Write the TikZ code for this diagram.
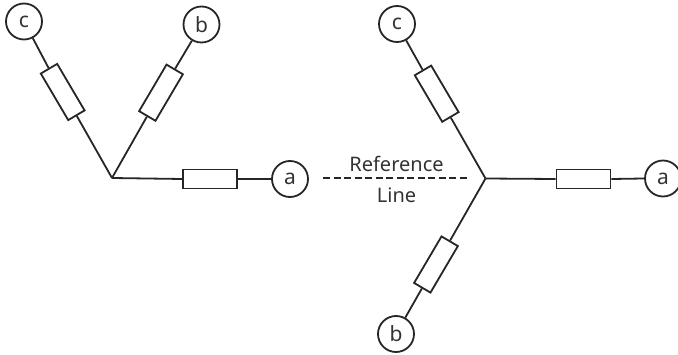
\documentclass[tikz,border=0pt]{standalone}
\usepackage{fontspec}
\setmainfont{Noto Sans}
\tikzset{
  wire/.style={line width=1.8pt,black!85},
  term/.style={circle,draw=black!85,line width=1.8pt,minimum size=36pt,inner sep=0pt,font=\fontsize{21}{21}\selectfont,text=black!80,fill=white},
  res/.style={rectangle,draw=black!85,line width=1.8pt,minimum width=54pt,minimum height=19pt,inner sep=0pt,fill=white},
  lab/.style={font=\fontsize{20}{20}\selectfont,text=black!80,inner sep=0pt}
}
\begin{document}
\begin{tikzpicture}[x=1pt,y=-1pt]
\useasboundingbox (0,0) rectangle (678,355);
% left star
\coordinate (hubL) at (112,178);
\node[term] (aL) at (290,179) {a};
\node[term] (bL) at (201.5,24.5) {b};
\node[term] (cL) at (24,21.5) {c};
\node[res] (raL) at (210,179) {};
\node[res,rotate=59.5] (rbL) at (161,92.7) {};
\node[res,rotate=-59.5] (rcL) at (62.7,92) {};
\draw[wire] (hubL) -- (raL.west);
\draw[wire] (raL.east) -- (aL.west);
\draw[wire] (hubL) -- (rbL.west);
\draw[wire] (rbL.east) -- (bL);
\draw[wire] (hubL) -- (rcL.east);
\draw[wire] (rcL.west) -- (cL);
% right star
\coordinate (hubR) at (485.5,178.5);
\node[term] (aR) at (663,178.5) {a};
\node[term] (bR) at (396,334) {b};
\node[term] (cR) at (397,24) {c};
\node[res] (raR) at (583.5,179) {};
\node[res,rotate=59.5] (rbR) at (436,264.5) {};
\node[res,rotate=-59.5] (rcR) at (436.7,93.7) {};
\draw[wire] (hubR) -- (raR.west);
\draw[wire] (raR.east) -- (aR.west);
\draw[wire] (hubR) -- (rbR.east);
\draw[wire] (rbR.west) -- (bR);
\draw[wire] (hubR) -- (rcR.east);
\draw[wire] (rcR.west) -- (cR);
% reference line
\coordinate (refA) at (323,178);
\coordinate (refB) at (469,178);
\draw[wire,line width=1.6pt,dash pattern=on 7pt off 3.5pt] (refA) -- (refB);
\node[lab] (reftop) at (396.5,164) {Reference};
\node[lab] (refbot) at (396.5,195) {Line};
\end{tikzpicture}
\end{document}
